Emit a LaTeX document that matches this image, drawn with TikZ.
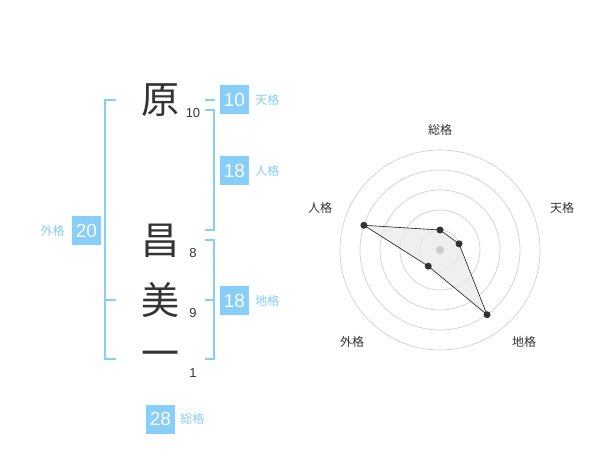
\documentclass[tikz,border=0pt]{standalone}
\usepackage{fontspec}
\setmainfont{Liberation Sans}
\newfontfamily\jp{Noto Sans CJK JP}
\usepackage{xcolor}
\usepackage{tikz}
\usetikzlibrary{positioning}
\definecolor{skyb}{RGB}{135,206,250}
\definecolor{ink}{RGB}{51,51,51}

\tikzset{
	numbox/.style={fill=skyb,text=white,minimum size=29pt,inner sep=0pt,font=\fontsize{19}{19}\selectfont},
	kaku/.style={text=skyb,font=\jp\fontsize{12}{12}\selectfont,inner sep=0pt},
	kanji/.style={text=ink,font=\jp\fontsize{38}{38}\selectfont,inner sep=0pt},
	stroke/.style={text=ink,font=\fontsize{13}{13}\selectfont,inner sep=0pt},
	bracket/.style={skyb,line width=2pt},
	ring/.style={draw=black!18,line width=0.7pt},
	axislab/.style={text=ink,font=\jp\fontsize{12}{12}\selectfont,inner sep=0pt}
}

\begin{document}
\begin{tikzpicture}[x=1pt,y=-1pt]
	\useasboundingbox (0,0) rectangle (600,470);
	% name and strokes
	\node[kanji] (k1) at (160,100) {原};
	\node[kanji] (k2) at (160,241) {昌};
	\node[kanji] (k3) at (160,300) {美};
	\node[kanji] (k4) at (160,359) {一};
	\node[stroke] (s1) at (193,113) {10};
	\node[stroke] (s2) at (193,253) {8};
	\node[stroke] (s3) at (193,313) {9};
	\node[stroke] (s4) at (193,373) {1};
	% brackets
	\draw[bracket] (116,100) -- (105,100) -- (105,359) -- (116,359);
	\draw[bracket] (105,300) -- (116,300);
	\draw[bracket] (205,100) -- (215,100);
	\draw[bracket] (205,110) -- (214,110) -- (214,230) -- (205,230);
	\draw[bracket] (205,240) -- (214,240) -- (214,359) -- (205,359);
	\draw[bracket] (205,300) -- (214,300);
	% boxes
	\node[numbox] (ten) at (234.5,100) {10};
	\node[kaku,right=6pt of ten] (tenlab) {天格};
	\node[numbox] (jin) at (234.5,170.5) {18};
	\node[kaku,right=6pt of jin] (jinlab) {人格};
	\node[numbox] (chi) at (234.5,300.5) {18};
	\node[kaku,right=6pt of chi] (chilab) {地格};
	\node[numbox] (gai) at (86.5,230.5) {20};
	\node[kaku,left=7pt of gai] (gailab) {外格};
	\node[numbox] (sou) at (160.5,419) {28};
	\node[kaku,right=5pt of sou] (soulab) {総格};
	% radar
	\begin{scope}[shift={(440,250)},yscale=-1]
		\foreach \r in {20,40,60,80,100}
		\draw[ring] (0,0) circle (\r pt);
		\coordinate (p1) at (90:20);
		\coordinate (p2) at (18:20);
		\coordinate (p3) at (-54:80);
		\coordinate (p4) at (-126:20);
		\coordinate (p5) at (162:80);
		\filldraw[fill=black!8,fill opacity=0.8,draw=black!90,line width=0.6pt] (p1) -- (p2) -- (p3) -- (p4) -- (p5) -- cycle;
		\fill[black!20] (0,0) circle (4pt);
		\foreach \i in {1,2,3,4,5}
		\fill[ink] (p\i) circle (3.5pt);
	\end{scope}
	\node[axislab] (a1) at (440,130) {総格};
	\node[axislab] (a2) at (562,208) {天格};
	\node[axislab] (a3) at (524,342) {地格};
	\node[axislab] (a4) at (352,342) {外格};
	\node[axislab] (a5) at (320,208) {人格};
\end{tikzpicture}
\end{document}
